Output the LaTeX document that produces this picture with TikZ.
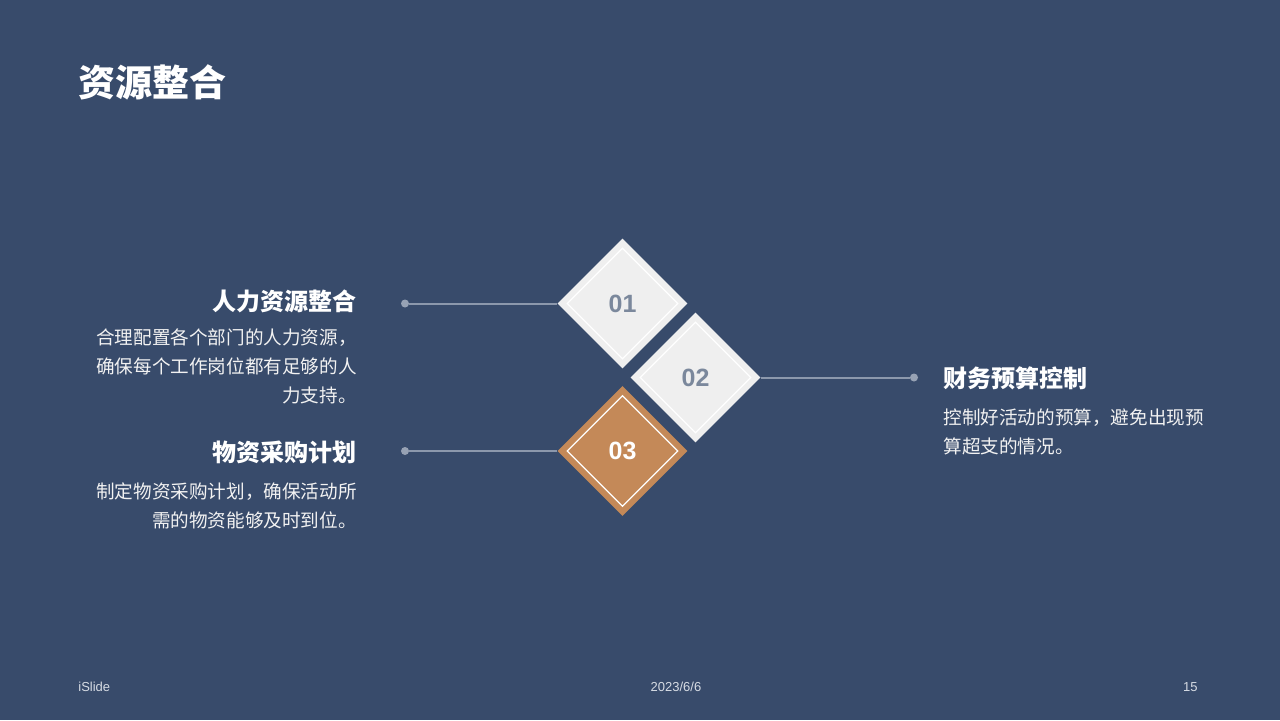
\documentclass[tikz,border=0pt]{standalone}
\usepackage{fontspec}
\setmainfont{Liberation Sans}
\newfontfamily\cjk{Noto Sans CJK SC}
\usetikzlibrary{shapes.geometric, positioning}

\definecolor{slatebg}{RGB}{56,75,107}
\definecolor{tileface}{RGB}{239,239,239}
\definecolor{tilenum}{RGB}{123,136,156}
\definecolor{copper}{RGB}{196,137,88}
\definecolor{leader}{RGB}{140,152,172}
\definecolor{softwhite}{RGB}{242,242,242}
\definecolor{footgray}{RGB}{215,220,228}

\begin{document}
\begin{tikzpicture}[
    x=0.5pt, y=-0.5pt,
    % Styles
    tile/.style={diamond, aspect=1, inner sep=0pt, minimum size=65pt, fill=#1, font=\bfseries\fontsize{12.5}{14}\selectfont},
    tileframe/.style={diamond, aspect=1, inner sep=0pt, minimum size=55.5pt, draw=white, line width=0.6pt},
    head/.style={font=\cjk\bfseries\fontsize{12}{14}\selectfont, text=white, inner sep=0pt},
    body/.style={font=\cjk\fontsize{9.3}{14.5}\selectfont, text=softwhite, inner sep=0pt, align=#1},
    body/.default=left,
    leadline/.style={draw=leader, line width=1pt},
    leaddot/.style={circle, fill=leader!90!white, inner sep=0pt, minimum size=4pt},
    foot/.style={font=\fontsize{6.5}{8}\selectfont, text=footgray, inner sep=0pt},
]

% ── Background ──
\fill[slatebg] (0,0) rectangle (1280,720);
\useasboundingbox (0,0) rectangle (1280,720);

% ── Title ──
\node[head, font=\cjk\bfseries\fontsize{18.5}{20}\selectfont, anchor=west] (title) at (78,82) {资源整合};

% ── Diamond tiles ──
\node[tile=tileface, text=tilenum] (d1) at (622.5,303.5) {01};
\node[tileframe] (d1f) at (d1.center) {};
\node[tile=tileface, text=tilenum] (d2) at (695.5,377.5) {02};
\node[tileframe] (d2f) at (d2.center) {};
\node[tile=copper, text=white] (d3) at (622.5,451) {03};
\node[tileframe] (d3f) at (d3.center) {};

% ── Leader lines ──
\node[leaddot] (dot1) at (405,303.5) {};
\node[leaddot] (dot2) at (914,377.5) {};
\node[leaddot] (dot3) at (405,451) {};

\draw[leadline] (dot1) -- (d1.west);
\draw[leadline] (d2.east) -- (dot2);
\draw[leadline] (dot3) -- (d3.west);

% ── Item 01 ──
\node[head, anchor=east] (h1) at (357,301) {人力资源整合};
\node[body=right, anchor=east] (b1) at (357,366) {合理配置各个部门的人力资源，\\确保每个工作岗位都有足够的人\\力支持。};

% ── Item 02 ──
\node[head, anchor=west] (h2) at (943,378) {财务预算控制};
\node[body=left, anchor=west] (b2) at (943,431.5) {控制好活动的预算，避免出现预\\算超支的情况。};

% ── Item 03 ──
\node[head, anchor=east] (h3) at (357,452) {物资采购计划};
\node[body=right, anchor=east] (b3) at (357,505.5) {制定物资采购计划，确保活动所\\需的物资能够及时到位。};

% ── Footer ──
\node[foot, anchor=west] (fleft) at (78,687) {iSlide};
\node[foot] (fmid) at (676,687) {2023/6/6};
\node[foot, anchor=east] (fright) at (1198,687) {15};

\end{tikzpicture}
\end{document}
